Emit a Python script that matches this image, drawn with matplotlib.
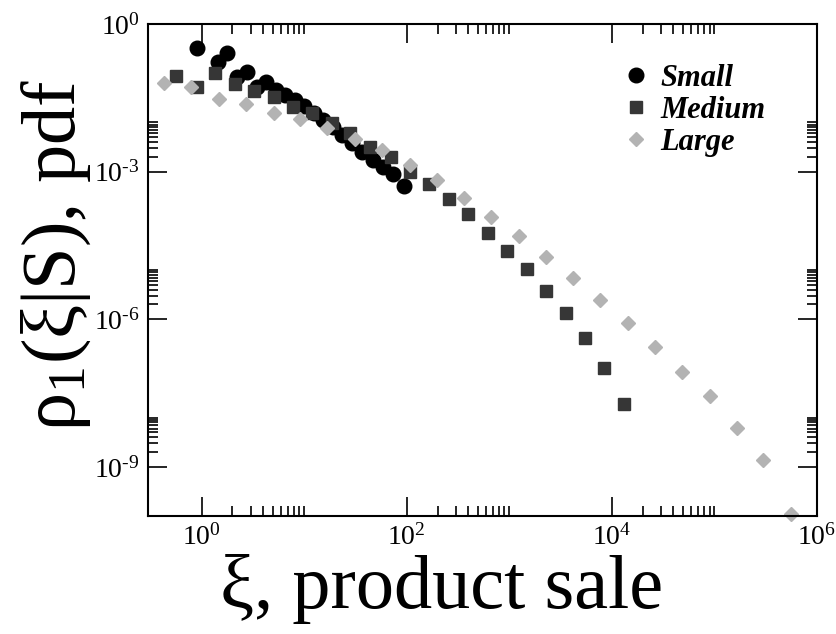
import numpy as np
import matplotlib
matplotlib.use('Agg')
import matplotlib.pyplot as plt
from matplotlib.ticker import FixedLocator, FuncFormatter, NullFormatter

plt.rcParams['font.family'] = ['Liberation Serif', 'DejaVu Serif']
plt.rcParams['mathtext.fontset'] = 'custom'
plt.rcParams['mathtext.rm'] = 'Liberation Serif'
plt.rcParams['mathtext.it'] = 'Liberation Serif:italic'
plt.rcParams['mathtext.bf'] = 'Liberation Serif:bold'

# values (log-log)
small_x = [0.91, 1.44, 1.76, 2.2, 2.76, 3.46, 4.24, 5.31, 6.52, 8.17, 10.0, 12.5,
           15.3, 19.2, 23.6, 29.6, 37.1, 46.5, 58.2, 73.0, 93.5]
small_y = [0.325, 0.169, 0.258, 0.0838, 0.106, 0.0525, 0.0662, 0.0456, 0.0361,
           0.0285, 0.0215, 0.0155, 0.0112, 0.00807, 0.00555, 0.00381, 0.0025,
           0.00172, 0.00124, 0.000893, 0.000509]

medium_x = [0.565, 0.908, 1.36, 2.11, 3.26, 5.08, 7.85, 11.9, 18.8, 28.2, 44.4,
            69.7, 108, 166, 260, 399, 618, 955, 1479, 2270, 3565, 5470, 8470, 13120]
medium_y = [0.0889, 0.0516, 0.102, 0.0594, 0.0441, 0.0324, 0.0208, 0.0153,
            0.0096, 0.0060, 0.0032, 0.00195, 0.000995, 0.00056, 0.000274,
            0.000137, 5.73e-5, 2.43e-5, 1.05e-5, 3.74e-6, 1.36e-6, 4.21e-7,
            1.0e-7, 1.92e-8]

large_x = [0.434, 0.792, 1.48, 2.74, 5.08, 9.14, 16.9, 31.6, 57.8, 108, 197, 365,
           667, 1233, 2270, 4150, 7670, 14260, 26240, 48530, 89950, 165600,
           302000, 559800]
large_y = [0.0624, 0.0532, 0.0295, 0.0237, 0.0153, 0.0116, 0.00759, 0.00454,
           0.00275, 0.00136, 0.000675, 0.000295, 0.000121, 4.98e-5, 1.86e-5,
           6.97e-6, 2.42e-6, 8.26e-7, 2.72e-7, 8.57e-8, 2.75e-8, 6.24e-9,
           1.36e-9, 1.10e-10]

x_major = [1e0, 1e2, 1e4, 1e6]
y_major = [1e0, 1e-3, 1e-6, 1e-9]

fig = plt.figure(figsize=(8.36, 6.34), dpi=100)
ax = fig.add_axes([0.177, 0.186, 0.800, 0.776])

ax.plot(small_x, small_y, 'o', color='black', markersize=10.5, label='Small',
        clip_on=False)
ax.plot(medium_x, medium_y, 's', color='#363636', markersize=8.8, label='Medium',
        clip_on=False)
ax.plot(large_x, large_y, 'D', color='#b3b3b3', markersize=7.6, label='Large',
        clip_on=False)

ax.set_xscale('log')
ax.set_yscale('log')
ax.set_xlim(0.3, 1e6)
ax.set_ylim(1e-10, 1)

# grace-style ticks: major every 2-3 decades, minor only in the decade above a major
x_minor = [m * d for d in (1e0, 1e2, 1e4) for m in range(2, 11)]
y_minor = [m * d for d in (1e-9, 1e-6, 1e-3) for m in range(2, 11)]
ax.xaxis.set_major_locator(FixedLocator(x_major))
ax.yaxis.set_major_locator(FixedLocator(y_major))
ax.xaxis.set_minor_locator(FixedLocator(x_minor))
ax.yaxis.set_minor_locator(FixedLocator(y_minor))


def pow_label(v, pos):
    # short hyphen in the exponent, like the original
    e = int(round(np.log10(v)))
    s = str(abs(e)) if e >= 0 else '\u2010' + str(-e)
    return r'$10^{\mathrm{%s}}$' % s


fmt = FuncFormatter(pow_label)
ax.xaxis.set_major_formatter(fmt)
ax.yaxis.set_major_formatter(fmt)
ax.xaxis.set_minor_formatter(NullFormatter())
ax.yaxis.set_minor_formatter(NullFormatter())

ax.tick_params(which='both', direction='in', top=True, right=True, width=1.2)
ax.tick_params(which='major', length=13.5, labelsize=20, pad=6)
ax.tick_params(which='minor', length=7)
for s in ax.spines.values():
    s.set_linewidth(1.5)

ax.set_xlabel('ξ, product sale', fontsize=55, va='center')
ax.xaxis.set_label_coords(0.439, -0.148)
ax.set_ylabel(r'ρ$_1$(ξ|S), pdf', fontsize=55, va='center')
ax.yaxis.set_label_coords(-0.137, 0.53)

ax.legend(loc='upper left', bbox_to_anchor=(0.707, 0.919), frameon=False,
          numpoints=1, handlelength=1.0, handletextpad=0.3, labelspacing=0.1,
          borderpad=0, borderaxespad=0,
          prop={'family': 'Liberation Serif', 'weight': 'bold',
                'style': 'italic', 'size': 22})

fig.savefig('out.png', dpi=100)
